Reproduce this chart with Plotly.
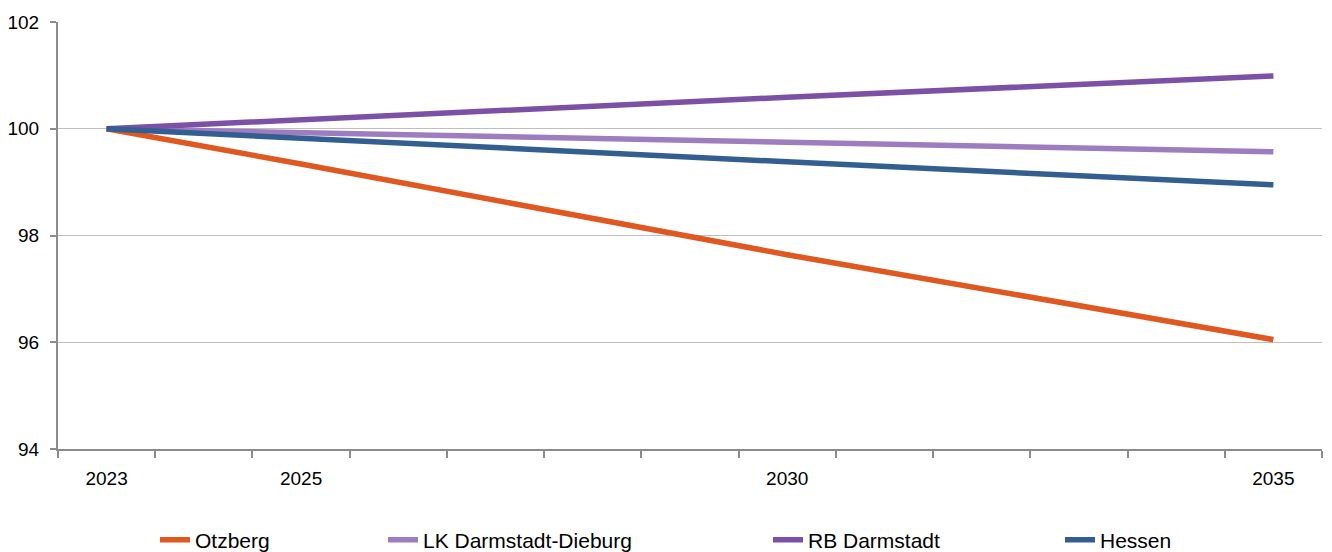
import plotly.graph_objects as go

years = [2023, 2025, 2030, 2035]
otzberg = [100.0, 99.34, 97.64, 96.05]
lk_darmstadt_dieburg = [100.0, 99.93, 99.75, 99.57]
rb_darmstadt = [100.0, 100.17, 100.59, 100.99]
hessen = [100.0, 99.83, 99.38, 98.95]

tick_years = [2023, 2025, 2030, 2035]
tick_labels = ["2023", "2025", "2030", "2035"]
y_ticks = [94, 96, 98, 100, 102]

series = [
    ("Otzberg", otzberg, "#E0571F", "legend"),
    ("LK Darmstadt-Dieburg", lk_darmstadt_dieburg, "#9D7CC0", "legend2"),
    ("RB Darmstadt", rb_darmstadt, "#7B50A6", "legend3"),
    ("Hessen", hessen, "#335E91", "legend4"),
]

FONT = "Liberation Sans, Arial, sans-serif"

fig = go.Figure()
for name, vals, color, lg in series:
    fig.add_trace(go.Scatter(
        x=years, y=vals, name=name, mode="lines",
        line=dict(color=color, width=5.5),
        legend=lg,
    ))

# page has an 8px body margin; work in figure coordinates = page - 8
OFF = 8
W, H = 1332 - OFF, 552 - OFF
plot_left, plot_right, plot_top, plot_bottom = 58 - OFF, 1322 - OFF, 22 - OFF, 449 - OFF
pw = plot_right - plot_left
ph = plot_bottom - plot_top

def lx(px):
    return (px - plot_left) / pw

leg_y = -(540 - OFF - plot_bottom) / ph
legend_common = dict(orientation="h", yanchor="middle", y=leg_y, xanchor="left",
                     font=dict(family=FONT, size=21, color="#000000"),
                     bgcolor="rgba(0,0,0,0)", itemwidth=30)

fig.update_layout(
    width=W, height=H,
    margin=dict(l=plot_left, r=W - plot_right, t=plot_top, b=H - plot_bottom,
                autoexpand=False),
    paper_bgcolor="white", plot_bgcolor="white",
    font=dict(family=FONT, size=20, color="#000000"),
    showlegend=True,
    legend=dict(x=lx(155 - OFF), **legend_common),
    legend2=dict(x=lx(383 - OFF), **legend_common),
    legend3=dict(x=lx(768 - OFF), **legend_common),
    legend4=dict(x=lx(1060 - OFF), **legend_common),
    xaxis=dict(
        range=[2022.5, 2035.5],
        tickvals=tick_years, ticktext=tick_labels,
        ticks="outside", ticklen=11, tickcolor="rgba(0,0,0,0)",
        showgrid=False, zeroline=False, automargin=False,
        showline=True, linecolor="#8C8C8C", linewidth=2,
        tickfont=dict(family=FONT, size=19, color="#000000"),
        minor=dict(ticks="outside", tick0=2022.5, dtick=1, ticklen=7,
                   tickcolor="#8C8C8C", tickwidth=2, showgrid=False),
    ),
    yaxis=dict(
        range=[94, 102],
        tickvals=y_ticks, automargin=False,
        ticks="outside", ticklen=6, tickcolor="#8C8C8C", tickwidth=2,
        showgrid=True, gridcolor="#BEBEBE", gridwidth=1,
        zeroline=False,
        showline=True, linecolor="#8C8C8C", linewidth=2,
        tickfont=dict(family=FONT, size=19, color="#000000"),
        ticklabelstandoff=7,
    ),
)

fig.write_html("out.html")
